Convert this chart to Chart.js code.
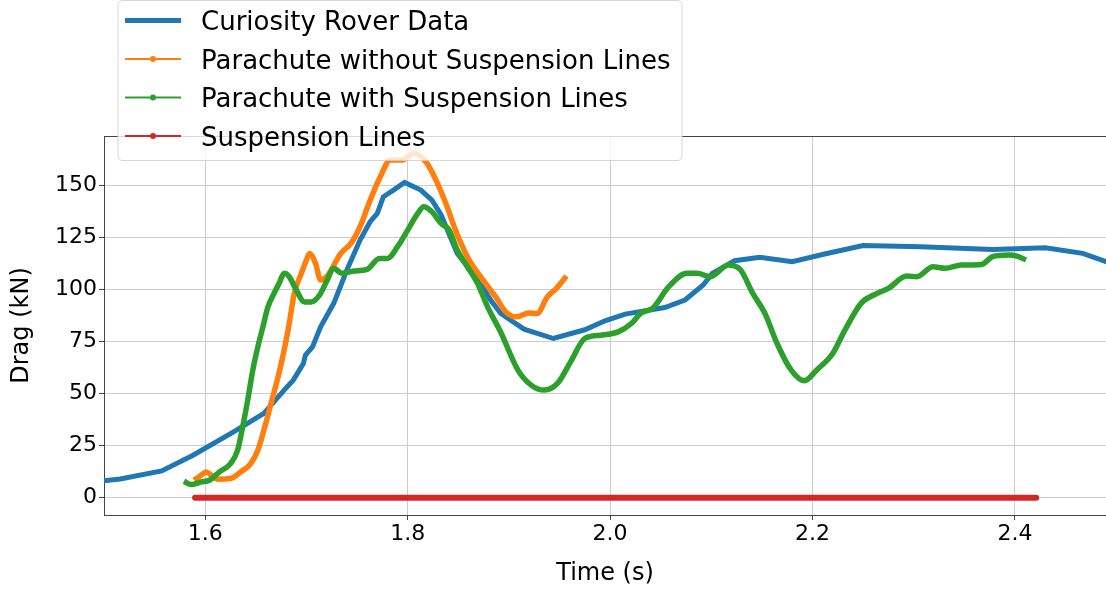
<!DOCTYPE html>
<html>
<head>
<meta charset="utf-8">
<script src="https://cdn.jsdelivr.net/npm/chart.js@4.4.0/dist/chart.umd.min.js"></script>
<style>
  html, body { margin: 0; padding: 0; background: #fff; }
  #wrap { width: 1106px; height: 590px; }
</style>
</head>
<body>
<div id="wrap"><canvas id="drag-chart" width="1106" height="590"></canvas></div>
<script>
// Curiosity rover measured drag
const roverTime = [1.499, 1.516, 1.557, 1.588, 1.628, 1.658, 1.678, 1.687, 1.697, 1.699, 1.706, 1.714, 1.727, 1.740, 1.753, 1.763, 1.770, 1.776, 1.786, 1.797, 1.813, 1.824, 1.833, 1.849, 1.862, 1.872, 1.882, 1.892, 1.915, 1.944, 1.975, 1.995, 2.015, 2.054, 2.074, 2.092, 2.101, 2.123, 2.148, 2.180, 2.212, 2.250, 2.307, 2.378, 2.430, 2.467, 2.495];
const roverDrag = [8.1, 9.0, 12.9, 20.4, 31.6, 40.5, 51.7, 56.5, 64.5, 68.5, 72.5, 82.1, 93.4, 109.4, 123.8, 132.6, 136.6, 144.6, 147.8, 151.5, 147.8, 143.0, 136.0, 117.4, 109.4, 103.0, 95.0, 88.5, 81.0, 76.5, 80.7, 85.0, 88.2, 91.4, 95.0, 102.2, 107.8, 113.9, 115.5, 113.4, 117.1, 121.2, 120.6, 119.3, 120.1, 117.4, 112.6];

// parachute only
const noLinesTime = [1.589, 1.596, 1.601, 1.606, 1.612, 1.625, 1.635, 1.645, 1.652, 1.658, 1.665, 1.672, 1.678, 1.683, 1.688, 1.695, 1.700, 1.703, 1.709, 1.714, 1.720, 1.734, 1.744, 1.753, 1.763, 1.773, 1.783, 1.795, 1.806, 1.818, 1.828, 1.839, 1.846, 1.859, 1.872, 1.887, 1.897, 1.907, 1.920, 1.928, 1.938, 1.947, 1.957];
const noLinesDrag = [8.4, 10.8, 12.4, 10.8, 8.9, 9.2, 12.4, 16.4, 22.8, 32.5, 45.3, 58.1, 70.9, 83.7, 98.2, 107.8, 114.2, 117.4, 112.6, 104.6, 106.2, 117.4, 122.2, 130.2, 143.0, 154.2, 162.3, 162.3, 165.5, 161.4, 152.6, 139.8, 130.2, 115.8, 106.2, 96.5, 89.3, 86.9, 88.8, 88.5, 96.5, 100.6, 106.5];

// parachute + suspension lines
const withLinesTime = [1.579, 1.586, 1.596, 1.604, 1.614, 1.625, 1.632, 1.637, 1.642, 1.647, 1.652, 1.657, 1.662, 1.668, 1.673, 1.678, 1.683, 1.690, 1.698, 1.705, 1.713, 1.720, 1.727, 1.735, 1.747, 1.760, 1.772, 1.780, 1.790, 1.800, 1.810, 1.816, 1.824, 1.833, 1.841, 1.849, 1.859, 1.869, 1.879, 1.892, 1.909, 1.922, 1.935, 1.948, 1.961, 1.975, 1.991, 2.008, 2.021, 2.031, 2.042, 2.058, 2.076, 2.086, 2.099, 2.117, 2.129, 2.141, 2.153, 2.165, 2.179, 2.192, 2.204, 2.220, 2.232, 2.248, 2.264, 2.275, 2.293, 2.303, 2.319, 2.331, 2.347, 2.367, 2.378, 2.394, 2.402, 2.411];
const withLinesDrag = [7.9, 6.3, 7.6, 8.4, 12.4, 16.4, 22.8, 34.0, 46.9, 61.3, 72.5, 82.1, 91.7, 98.2, 103.0, 107.8, 106.2, 99.8, 94.1, 94.1, 97.4, 104.0, 110.2, 107.8, 108.9, 109.7, 115.0, 115.0, 120.6, 128.6, 136.6, 139.8, 137.4, 131.8, 128.6, 119.0, 111.0, 103.0, 91.7, 79.5, 61.3, 54.1, 51.7, 54.9, 65.3, 76.5, 78.1, 79.7, 83.7, 88.9, 91.0, 101.4, 107.8, 107.8, 106.2, 111.8, 109.4, 98.2, 88.6, 74.1, 61.3, 56.2, 61.3, 69.3, 80.5, 93.4, 98.2, 100.6, 106.5, 106.2, 111.0, 110.2, 111.8, 112.1, 115.8, 116.6, 116.1, 114.2];

// suspension lines alone
const linesTime = [1.590, 2.421];
const linesDrag = [0, 0];

const xTicks = [1.6, 1.8, 2.0, 2.2, 2.4];
const xTickLabels = ['1.6', '1.8', '2.0', '2.2', '2.4'];
const yTicks = [0, 25, 50, 75, 100, 125, 150];
const yTickLabels = ['0', '25', '50', '75', '100', '125', '150'];

const seriesNames = ['Curiosity Rover Data', 'Parachute without Suspension Lines', 'Parachute with Suspension Lines', 'Suspension Lines'];
const seriesColors = ['#1f77b4', '#ff7f0e', '#2ca02c', '#d62728'];

const FONT = 'DejaVu Sans';

function toPoints(xs, ys) {
  return xs.map((x, i) => ({ x: x, y: ys[i] }));
}

// legend sits on top of the plot, like matplotlib's upper-left box
const legendBox = {
  id: 'legendBox',
  afterDraw(chart) {
    const ctx = chart.ctx;
    ctx.save();
    const x0 = 118, y0 = 0.5, w = 564, h = 160, r = 5;
    ctx.beginPath();
    ctx.moveTo(x0 + r, y0);
    ctx.lineTo(x0 + w - r, y0);
    ctx.quadraticCurveTo(x0 + w, y0, x0 + w, y0 + r);
    ctx.lineTo(x0 + w, y0 + h - r);
    ctx.quadraticCurveTo(x0 + w, y0 + h, x0 + w - r, y0 + h);
    ctx.lineTo(x0 + r, y0 + h);
    ctx.quadraticCurveTo(x0, y0 + h, x0, y0 + h - r);
    ctx.lineTo(x0, y0 + r);
    ctx.quadraticCurveTo(x0, y0, x0 + r, y0);
    ctx.fillStyle = 'rgba(255,255,255,0.8)';
    ctx.fill();
    ctx.strokeStyle = 'rgba(204,204,204,0.8)';
    ctx.lineWidth = 1;
    ctx.stroke();

    ctx.font = '26px "' + FONT + '"';
    ctx.textBaseline = 'alphabetic';
    ctx.fillStyle = '#000';
    seriesNames.forEach((name, i) => {
      const cy = 20.5 + i * 38.5;
      ctx.strokeStyle = seriesColors[i];
      ctx.lineWidth = i === 0 ? 5 : 2;
      ctx.beginPath();
      ctx.moveTo(125, cy);
      ctx.lineTo(181, cy);
      ctx.stroke();
      if (i > 0) {
        ctx.fillStyle = seriesColors[i];
        ctx.beginPath();
        ctx.arc(153, cy, 3, 0, Math.PI * 2);
        ctx.fill();
      }
      ctx.fillStyle = '#000';
      ctx.fillText(name, 201, cy + 9.5);
    });
    ctx.restore();
  }
};

// top spine (right one is off the picture)
const topSpine = {
  id: 'topSpine',
  afterDatasetsDraw(chart) {
    const { ctx, chartArea } = chart;
    ctx.save();
    ctx.strokeStyle = '#444';
    ctx.lineWidth = 1;
    ctx.beginPath();
    ctx.moveTo(chartArea.left, chartArea.top + 0.5);
    ctx.lineTo(chartArea.right, chartArea.top + 0.5);
    ctx.stroke();
    ctx.restore();
  }
};

function initDragChart() {
  const canvas = document.getElementById('drag-chart');
  const gridColor = '#cccccc';

  new Chart(canvas.getContext('2d'), {
    type: 'line',
    data: {
      datasets: [
        {
          label: seriesNames[0],
          data: toPoints(roverTime, roverDrag),
          borderColor: seriesColors[0],
          borderWidth: 5,
          pointRadius: 0,
          tension: 0,
          order: 3
        },
        {
          label: seriesNames[1],
          data: toPoints(noLinesTime, noLinesDrag),
          borderColor: seriesColors[1],
          borderWidth: 5.5,
          pointRadius: 0,
          cubicInterpolationMode: 'monotone',
          order: 2
        },
        {
          label: seriesNames[2],
          data: toPoints(withLinesTime, withLinesDrag),
          borderColor: seriesColors[2],
          borderWidth: 5.5,
          pointRadius: 0,
          cubicInterpolationMode: 'monotone',
          order: 1
        },
        {
          label: seriesNames[3],
          data: toPoints(linesTime, linesDrag),
          borderColor: seriesColors[3],
          borderWidth: 6,
          borderCapStyle: 'round',
          pointRadius: 0,
          order: 0
        }
      ]
    },
    options: {
      responsive: false,
      animation: false,
      layout: { padding: { top: 136, right: 0, bottom: 0, left: 0 } },
      plugins: {
        legend: { display: false },
        tooltip: { enabled: false }
      },
      scales: {
        x: {
          type: 'linear',
          min: 1.5,
          max: 2.49,
          afterBuildTicks: s => { s.ticks = xTicks.map(v => ({ value: v })); },
          afterFit: s => { s.height = 75; },
          ticks: {
            callback: v => xTickLabels[xTicks.indexOf(v)],
            font: { family: FONT, size: 22 },
            color: '#000',
            padding: 1,
            maxRotation: 0,
            autoSkip: false
          },
          grid: { color: gridColor, tickColor: '#444', tickLength: 5 },
          border: { color: '#444', width: 1 },
          title: {
            display: true,
            text: 'Time (s)',
            font: { family: FONT, size: 24, lineHeight: 1.1 },
            color: '#000',
            padding: { top: 0, bottom: 3 }
          }
        },
        y: {
          type: 'linear',
          min: -8.3,
          max: 173.8,
          afterBuildTicks: s => { s.ticks = yTicks.map(v => ({ value: v })); },
          afterFit: s => { s.width = 104; },
          ticks: {
            callback: v => yTickLabels[yTicks.indexOf(v)],
            font: { family: FONT, size: 22 },
            color: '#000',
            padding: 2
          },
          grid: { color: gridColor, tickColor: '#444', tickLength: 5 },
          border: { color: '#444', width: 1 },
          title: {
            display: true,
            text: 'Drag (kN)',
            font: { family: FONT, size: 24, lineHeight: 1.1 },
            color: '#000',
            padding: { top: 9, bottom: 0 }
          }
        }
      }
    },
    plugins: [topSpine, legendBox]
  });
}

initDragChart();
</script>
</body>
</html>
